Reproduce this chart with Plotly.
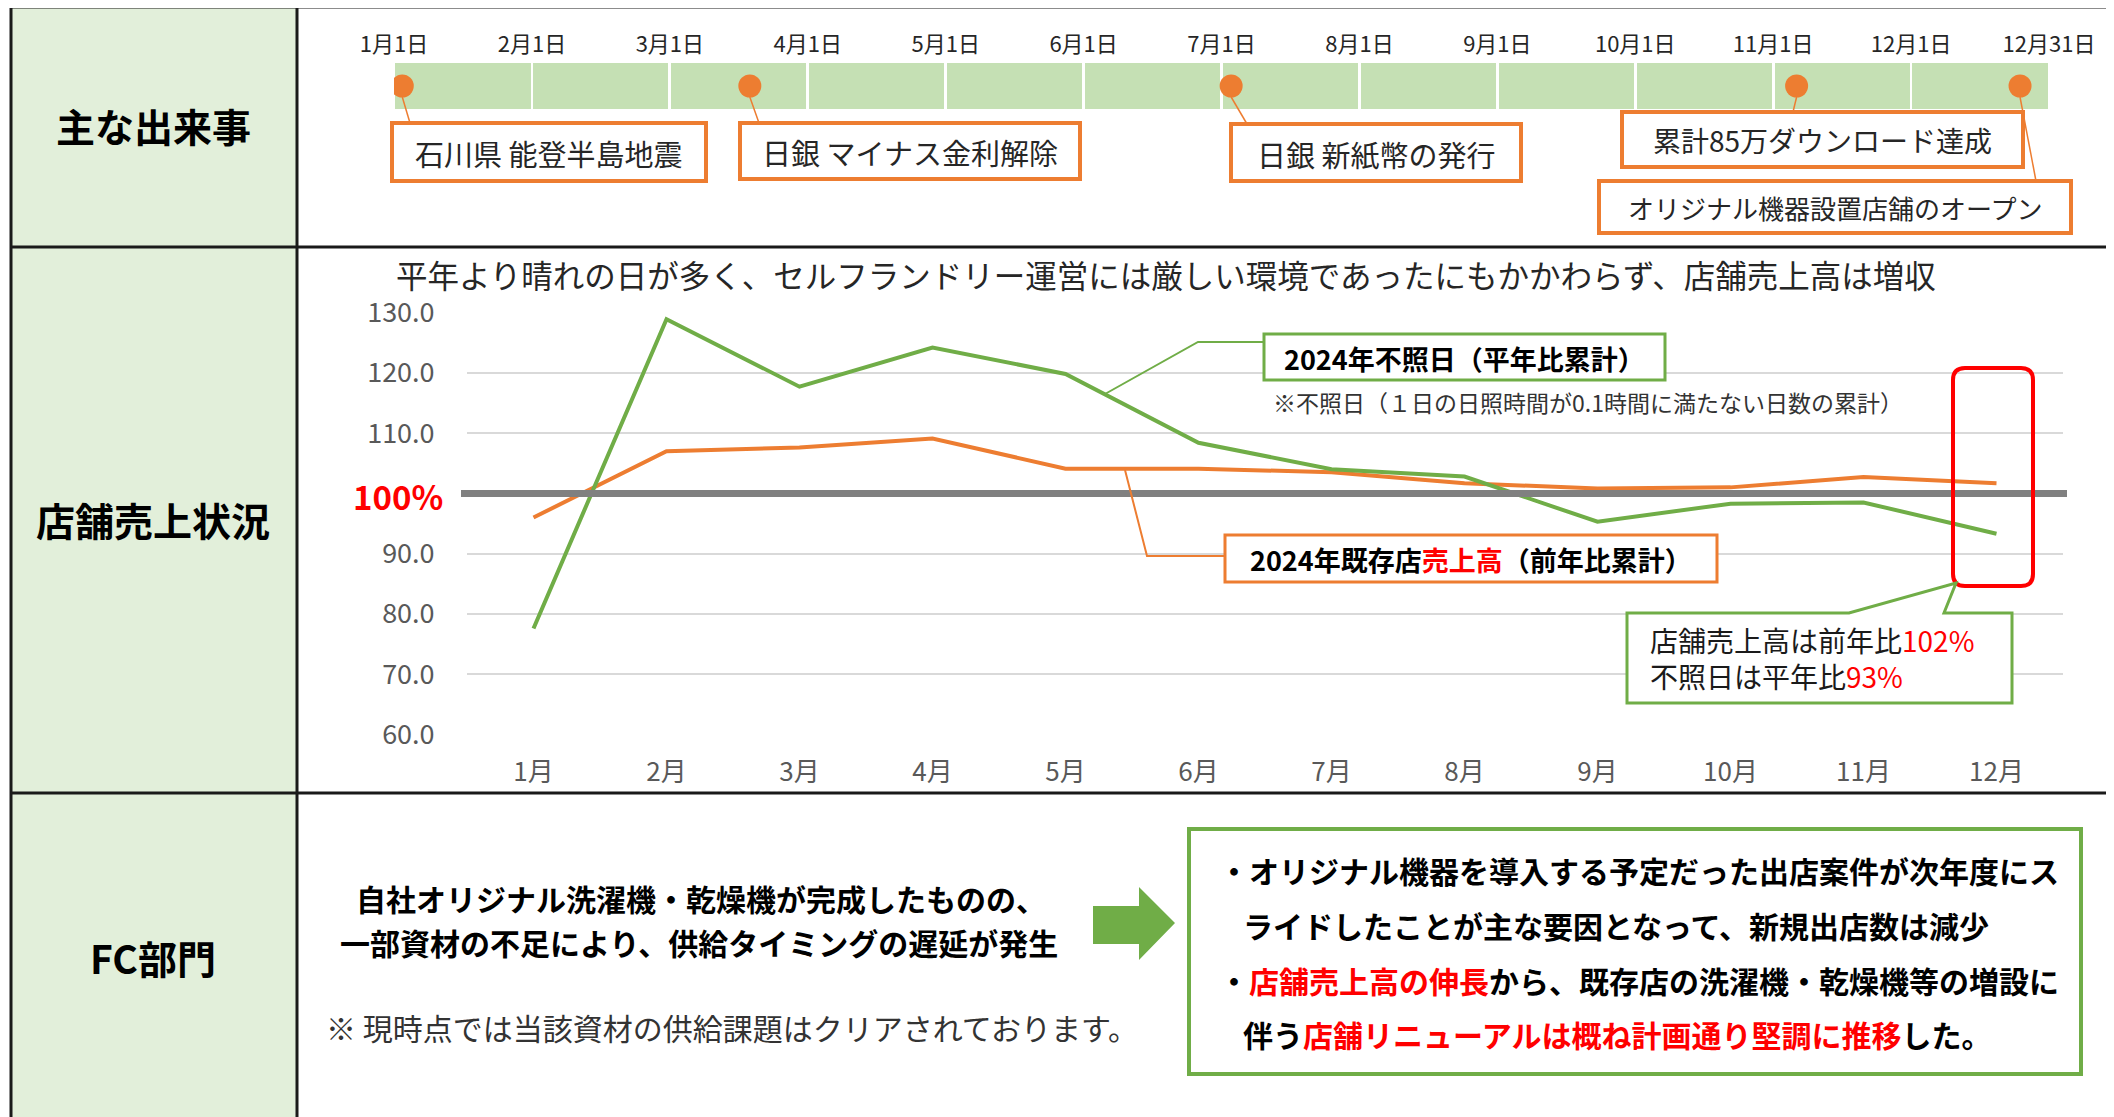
import plotly.graph_objects as go

# the page body adds an 8px margin, so the figure is drawn 8px smaller and positions shifted
OFF = 8
W, H = 2114 - OFF, 1117 - OFF
def X(p): return (p - OFF) / W
def Y(p): return 1 - (p - OFF) / H

FONT = "Noto Sans CJK JP"
GREEN = "#70AD47"
ORANGE = "#ED7D31"
RED = "#FF0000"

# ---------------- data ----------------
months = ["1月", "2月", "3月", "4月", "5月", "6月", "7月", "8月", "9月", "10月", "11月", "12月"]
sunless_days = [77.6, 128.9, 117.7, 124.2, 119.8, 108.4, 104.0, 102.8, 95.3, 98.3, 98.5, 93.3]
store_sales = [96.0, 107.0, 107.6, 109.1, 104.1, 104.1, 103.5, 101.7, 100.8, 101.0, 102.7, 101.7]
y_tick_vals = [60, 70, 80, 90, 110, 120, 130]
y_tick_text = ["60.0", "70.0", "80.0", "90.0", "110.0", "120.0", "130.0"]
baseline = 100

timeline_ticks = ["1月1日", "2月1日", "3月1日", "4月1日", "5月1日", "6月1日", "7月1日",
                  "8月1日", "9月1日", "10月1日", "11月1日", "12月1日", "12月31日"]
timeline_month_centers = [0.5, 1.5, 2.5, 3.5, 4.5, 5.5, 6.5, 7.5, 8.5, 9.5, 10.5, 11.5]
event_positions = [0.06, 2.58, 6.07, 10.17, 11.79]   # months elapsed since 1月1日
event_labels = ["石川県 能登半島地震", "日銀 マイナス金利解除", "日銀 新紙幣の発行",
                "累計85万ダウンロード達成", "オリジナル機器設置店舗のオープン"]

# ---------------- figure ----------------
fig = go.Figure()

# timeline (xaxis2 / yaxis2)
fig.add_trace(go.Bar(
    x=timeline_month_centers, y=[1] * len(timeline_month_centers), base=0, width=0.98,
    marker=dict(color="#C5E0B4", line=dict(width=0)),
    xaxis="x2", yaxis="y2", hoverinfo="skip", showlegend=False))
fig.add_trace(go.Scatter(
    x=event_positions, y=[0.5] * len(event_positions), mode="markers",
    marker=dict(size=23, color=ORANGE, line=dict(width=0)),
    xaxis="x2", yaxis="y2", hoverinfo="skip", showlegend=False))

# main chart
fig.add_trace(go.Scatter(x=months, y=store_sales, mode="lines",
                         line=dict(color=ORANGE, width=4), showlegend=False, hoverinfo="skip"))
fig.add_trace(go.Scatter(x=months, y=sunless_days, mode="lines",
                         line=dict(color=GREEN, width=4), showlegend=False, hoverinfo="skip"))

shapes = []
annotations = []

def line(x0, y0, x1, y1, color, width, layer="above"):
    shapes.append(dict(type="line", xref="paper", yref="paper",
                       x0=X(x0), y0=Y(y0), x1=X(x1), y1=Y(y1),
                       line=dict(color=color, width=width), layer=layer))

def rect(x0, y0, x1, y1, color, width, fill="white", layer="above"):
    shapes.append(dict(type="rect", xref="paper", yref="paper",
                       x0=X(x0), y0=Y(y0), x1=X(x1), y1=Y(y1),
                       line=dict(color=color, width=width), fillcolor=fill, layer=layer))

def path(points, color, width, fill=None, close=True):
    s = "M " + " L ".join(f"{X(px):.6f},{Y(py):.6f}" for px, py in points)
    if close:
        s += " Z"
    d = dict(type="path", xref="paper", yref="paper", path=s,
             line=dict(color=color, width=width), layer="above")
    if fill:
        d["fillcolor"] = fill
    shapes.append(d)

def text(x, y, t, size, color="#1a1a1a", xanchor="center", bold=False, align="center"):
    if bold:
        t = "<b>" + t + "</b>"
    annotations.append(dict(xref="paper", yref="paper", x=X(x), y=Y(y), text=t,
                            showarrow=False, xanchor=xanchor, yanchor="middle", align=align,
                            font=dict(family=FONT, size=size, color=color)))

def red(t):
    return f"<span style='color:{RED}'>{t}</span>"

# left column fill and frame
rect(11, 7, 297, 1117, "rgba(0,0,0,0)", 0, fill="#E2EFDA", layer="below")
for yy in (7, 247, 793):
    line(11, yy, 2114, yy, "#1a1a1a", 3)
line(11, 7, 11, 1117, "#1a1a1a", 3)
line(297, 7, 297, 1117, "#1a1a1a", 3)

# row headers
text(153, 125, "主な出来事", 39, "#000000", bold=True)
text(153, 519, "店舗売上状況", 39, "#000000", bold=True)
text(153, 957, "FC部門", 39, "#000000", bold=True)

# ---- timeline events ----
tl_x0, tl_x1 = 394, 2049
def tl_px(v):
    return tl_x0 + v * (tl_x1 - tl_x0) / 12.0

event_boxes = [(392, 123, 706, 181), (740, 123, 1080, 179), (1231, 124, 1521, 181),
               (1622, 112, 2023, 167), (1599, 181, 2071, 233)]
box_anchor = [(410, 123), (759, 123), (1247, 124), (1793, 112), (2036, 181)]
event_sizes = [29, 29, 29, 28, 26]
for pos, lab, (bx0, by0, bx1, by1), (ax, ay), fs in zip(event_positions, event_labels,
                                                        event_boxes, box_anchor, event_sizes):
    line(tl_px(pos), 97, ax, ay, ORANGE, 1.5)
    rect(bx0, by0, bx1, by1, ORANGE, 4)
    text((bx0 + bx1) / 2, (by0 + by1) / 2 + 1, lab, fs, "#262626")

# ---- chart decorations ----
shapes.append(dict(type="line", xref="paper", yref="y", x0=X(461), x1=X(2067),
                   y0=baseline, y1=baseline, line=dict(color="#808080", width=7), layer="above"))
text(445, 496, "100%", 33, RED, xanchor="right", bold=True)

text(1166, 274, "平年より晴れの日が多く、セルフランドリー運営には厳しい環境であったにもかかわらず、店舗売上高は増収",
     31.5, "#262626")

# green legend box + connector
path([(1264, 342), (1198, 342), (1105, 394)], GREEN, 2, close=False)
rect(1264, 334, 1665, 380, GREEN, 3)
text(1464, 358, "2024年不照日（平年比累計）", 27, "#000000", bold=True)
text(1271, 402, "※不照日（１日の日照時間が0.1時間に満たない日数の累計）", 23, "#333333", xanchor="left")

# orange legend box + connector
path([(1225, 556), (1147, 556), (1125, 470)], ORANGE, 2, close=False)
rect(1225, 535, 1717, 582, ORANGE, 3)
text(1471, 559, "2024年既存店" + red("売上高") + "（前年比累計）", 27, "#000000", bold=True)

# red rounded highlight
x0, y0, x1, y1, r = 1953, 368, 2033, 586, 12
shapes.append(dict(type="path", xref="paper", yref="paper", layer="above",
                   line=dict(color=RED, width=4),
                   path=(f"M {X(x0+r)},{Y(y0)} L {X(x1-r)},{Y(y0)} Q {X(x1)},{Y(y0)} {X(x1)},{Y(y0+r)} "
                         f"L {X(x1)},{Y(y1-r)} Q {X(x1)},{Y(y1)} {X(x1-r)},{Y(y1)} "
                         f"L {X(x0+r)},{Y(y1)} Q {X(x0)},{Y(y1)} {X(x0)},{Y(y1-r)} "
                         f"L {X(x0)},{Y(y0+r)} Q {X(x0)},{Y(y0)} {X(x0+r)},{Y(y0)} Z")))

# green callout
path([(1627, 613), (1849, 613), (1956, 583), (1944, 613), (2012, 613), (2012, 703), (1627, 703)],
     GREEN, 3, fill="white")
text(1648, 658, "店舗売上高は前年比" + red("102%") + "<br>不照日は平年比" + red("93%"),
     28, "#1a1a1a", xanchor="left", align="left")

# ---- FC section ----
text(701, 898, "自社オリジナル洗濯機・乾燥機が完成したものの、", 30, "#000000", bold=True)
text(699, 942, "一部資材の不足により、供給タイミングの遅延が発生", 30, "#000000", bold=True)
text(324, 1027, "※ 現時点では当該資材の供給課題はクリアされております。", 30, "#333333", xanchor="left")

path([(1093, 906), (1139, 906), (1139, 887), (1175, 923), (1139, 960), (1139, 944), (1093, 944)],
     GREEN, 0, fill=GREEN)

rect(1189, 829, 2081, 1074, GREEN, 4)
text(1217, 870, "・オリジナル機器を導入する予定だった出店案件が次年度にス", 30, "#000000", xanchor="left", bold=True)
text(1241, 925, "ライドしたことが主な要因となって、新規出店数は減少", 30, "#000000", xanchor="left", bold=True)
text(1217, 980, "・" + red("店舗売上高の伸長") + "から、既存店の洗濯機・乾燥機等の増設に", 30, "#000000",
     xanchor="left", bold=True)
text(1241, 1034, "伴う" + red("店舗リニューアルは概ね計画通り堅調に推移") + "した。", 30, "#000000",
     xanchor="left", bold=True)

fig.update_layout(
    width=W, height=H, autosize=False,
    margin=dict(l=0, r=0, t=0, b=0, pad=0),
    paper_bgcolor="white", plot_bgcolor="rgba(0,0,0,0)",
    template="none", showlegend=False, hovermode=False,
    font=dict(family=FONT),
    xaxis=dict(domain=[X(467), X(2063)], type="category", anchor="y", range=[-0.5, 11.5],
               showgrid=False, zeroline=False, showline=False,
               ticks="outside", ticklen=14, tickcolor="rgba(0,0,0,0)",
               tickfont=dict(family=FONT, size=26, color="#595959")),
    yaxis=dict(domain=[Y(734.6), Y(312.5)], range=[60, 130], anchor="x",
               tickvals=y_tick_vals, ticktext=y_tick_text,
               showgrid=True, gridcolor="#D9D9D9", gridwidth=1.5,
               zeroline=False, showline=False,
               ticks="outside", ticklen=26, tickcolor="rgba(0,0,0,0)",
               tickfont=dict(family=FONT, size=27, color="#595959")),
    xaxis2=dict(domain=[X(tl_x0), X(tl_x1)], range=[0, 12], anchor="y2", side="top",
                tickvals=list(range(13)), ticktext=timeline_ticks,
                showgrid=False, zeroline=False, showline=False,
                ticks="outside", ticklen=1, tickcolor="rgba(0,0,0,0)",
                tickfont=dict(family=FONT, size=22, color="#262626")),
    yaxis2=dict(domain=[Y(109), Y(63)], range=[0, 1], anchor="x2", visible=False),
    bargap=0,
    shapes=shapes,
    annotations=annotations,
)

fig.write_html("out.html")
